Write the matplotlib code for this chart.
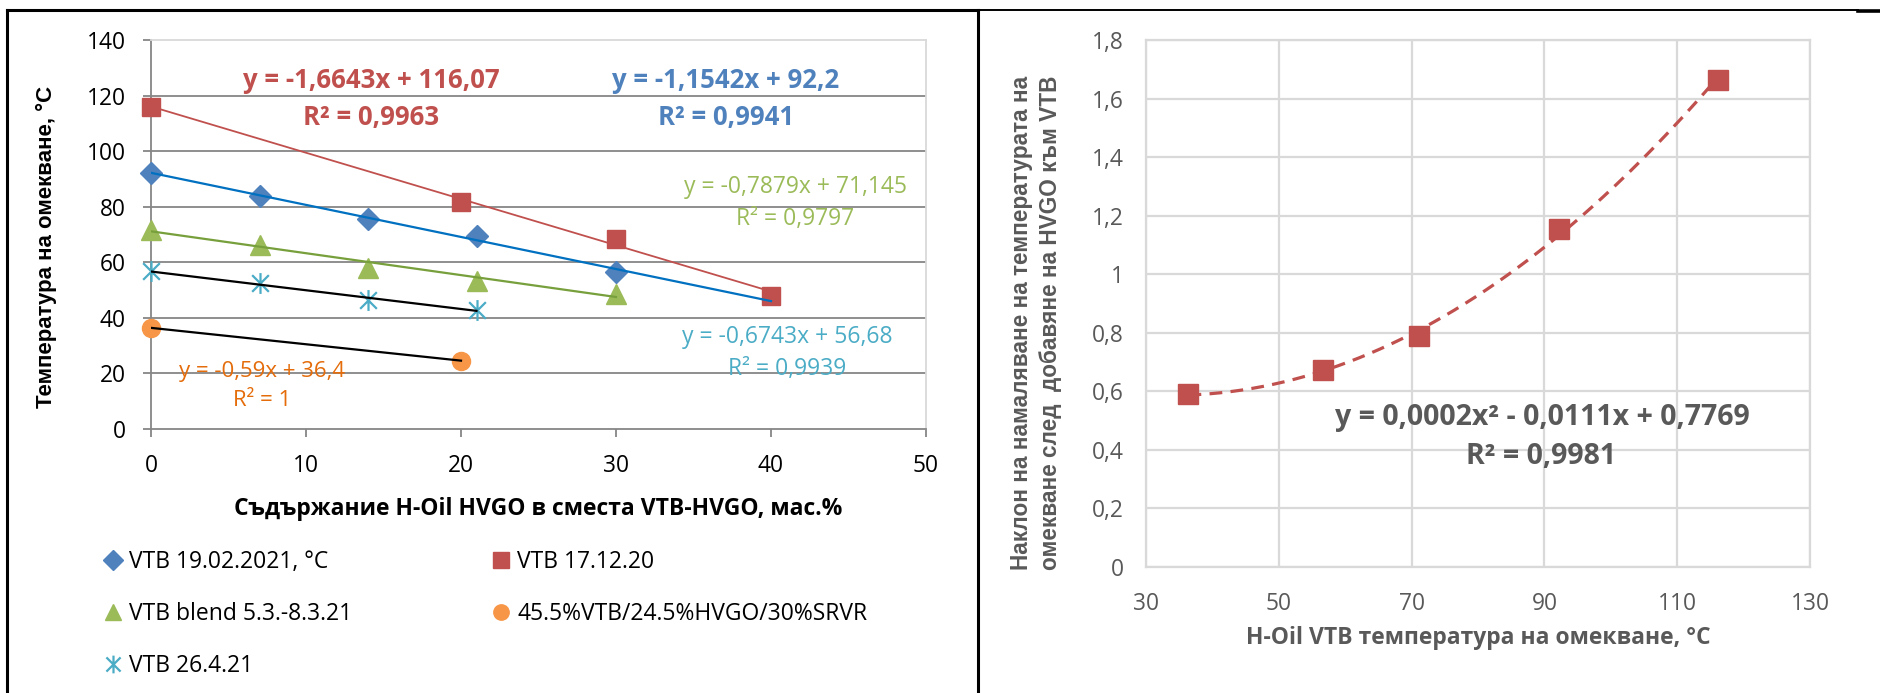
import matplotlib
matplotlib.use("Agg")
import matplotlib.pyplot as plt
import numpy as np
from matplotlib.path import Path
from matplotlib.lines import Line2D
from matplotlib.ticker import FuncFormatter

W, H = 1880, 693
NARROW = ['Open Sans', 'DejaVu Sans']
WIDE = ['Liberation Sans', 'DejaVu Sans']
plt.rcParams['font.family'] = NARROW

# left chart: softening point vs HVGO content
x_blue = [0, 7, 14, 21, 30]
y_blue = [92, 83.7, 75.7, 69.6, 56.5]
x_red = [0, 20, 30, 40]
y_red = [115.9, 81.7, 68.4, 47.8]
x_green = [0, 7, 14, 21, 30]
y_green = [71.5, 66.4, 58.1, 53.2, 48.5]
x_orange = [0, 20]
y_orange = [36.4, 24.6]
x_cyan = [0, 7, 14, 21]
y_cyan = [56.8, 52.5, 46.5, 42.8]

names = ['VTB 19.02.2021, °C', 'VTB 17.12.20', 'VTB blend 5.3.-8.3.21',
         '45.5%VTB/24.5%HVGO/30%SRVR', 'VTB 26.4.21']
# trendlines: slope, intercept, x range
slopes = [-1.1542, -1.6643, -0.7879, -0.59, -0.6743]
intercepts = [92.2, 116.07, 71.145, 36.4, 56.68]
trend_x = [(0, 40), (0, 40), (0, 30), (0, 20), (0, 21)]
eq_text = ['y = -1,1542x + 92,2\nR² = 0,9941', 'y = -1,6643x + 116,07\nR² = 0,9963',
           'y = -0,7879x + 71,145\nR² = 0,9797', 'y = -0,59x + 36,4\nR² = 1',
           'y = -0,6743x + 56,68\nR² = 0,9939']

# right chart: slope vs VTB softening point
x_right = [36.4, 56.68, 71.145, 92.2, 116.07]
y_right = [0.59, 0.6743, 0.7879, 1.1542, 1.6643]
right_eq = 'y = 0,0002x² - 0,0111x + 0,7769'
right_r2 = 'R² = 0,9981'


def fx(x):
    return x / W


def fy(y):
    return 1 - y / H


fig = plt.figure(figsize=(W / 100, H / 100), dpi=100)

# ---------- left chart ----------
ax = fig.add_axes([fx(151), fy(429), fx(926) - fx(151), fy(40) - fy(429)])
ax.set_xlim(0, 50)
ax.set_ylim(0, 140)
ax.set_xticks(range(0, 51, 10))
ax.set_yticks(range(0, 141, 20))
ax.yaxis.grid(True, color='#868686', lw=1.3)
ax.set_axisbelow(True)
ax.get_ygridlines()[-1].set_visible(False)
ax.get_ygridlines()[0].set_visible(False)
for s in ['left', 'bottom']:
    ax.spines[s].set_color('#868686')
    ax.spines[s].set_linewidth(1.3)
for s in ['top', 'right']:
    ax.spines[s].set_color('#D9D9D9')
    ax.spines[s].set_linewidth(1.3)
ax.tick_params(axis='both', direction='out', length=6, width=1.3, color='#868686',
               labelsize=16.4, labelcolor='black', pad=12)

star = Path([(0, -1), (0, 1), (-0.8, -0.8), (0.8, 0.8), (-0.8, 0.8), (0.8, -0.8)],
            [Path.MOVETO, Path.LINETO, Path.MOVETO, Path.LINETO, Path.MOVETO, Path.LINETO])

h_blue, = ax.plot(x_blue, y_blue, 'D', color='#4F81BD', ms=11.5, ls='none', label=names[0],
                  zorder=3, clip_on=False)
h_red, = ax.plot(x_red, y_red, 's', color='#C0504D', ms=13, ls='none', label=names[1],
                 zorder=3, clip_on=False)
h_green, = ax.plot(x_green, y_green, '^', color='#9BBB59', ms=14, ls='none', label=names[2],
                   zorder=3, clip_on=False)
h_orange, = ax.plot(x_orange, y_orange, 'o', color='#F79646', ms=13, ls='none', label=names[3],
                    zorder=3, clip_on=False)
h_cyan, = ax.plot(x_cyan, y_cyan, marker=star, color='#4BACC6', mfc='none', mec='#4BACC6',
                  mew=1.6, ms=15, ls='none', label=names[4], zorder=3, clip_on=False)

trend_colors = ['#0070C0', '#C0504D', '#77A03C', 'black', 'black']
trend_lw = [1.6, 1.3, 1.6, 1.6, 1.6]
for k in range(5):
    xs = np.array(trend_x[k], dtype=float)
    ax.plot(xs, slopes[k] * xs + intercepts[k], color=trend_colors[k], lw=trend_lw[k], zorder=4)

eq_pos = [(726, 99), (371, 99), (795, 203), (262, 386), (787, 353)]
eq_col = ['#4F81BD', '#C0504D', '#9BBB59', '#E46C0A', '#4BACC6']
eq_size = [18.5, 18.5, 16.5, 16, 16.5]
eq_weight = ['bold', 'bold', 'normal', 'normal', 'normal']
for k in range(5):
    fig.text(fx(eq_pos[k][0]), fy(eq_pos[k][1]), eq_text[k], color=eq_col[k],
             fontsize=eq_size[k], fontweight=eq_weight[k], ha='center', va='center',
             linespacing=1.45)

ax.set_xlabel('Съдържание H-Oil HVGO в сместа VTB-HVGO, мас.%', fontsize=16.5,
              fontweight='bold', labelpad=14)
fig.text(fx(46), fy(247), 'Температура на омекване, °C', rotation=90, family=WIDE,
         fontsize=16, fontweight='bold', ha='center', va='center')

leg = fig.legend([h_blue, h_green, h_cyan, h_red, h_orange],
                 [names[0], names[2], names[4], names[1], names[3]],
                 ncol=2, loc='upper left', bbox_to_anchor=(fx(104), fy(550)),
                 frameon=False, fontsize=16.5, handlelength=0.8, handletextpad=0.3,
                 borderpad=0, borderaxespad=0, labelspacing=1.22, columnspacing=6.1,
                 markerscale=0.85)

# ---------- right chart ----------
ax2 = fig.add_axes([fx(1146), fy(567), fx(1810) - fx(1146), fy(40) - fy(567)])
ax2.set_xlim(30, 130)
ax2.set_ylim(0, 1.8)
ax2.set_xticks(range(30, 131, 20))
ax2.set_yticks(np.arange(0, 1.81, 0.2))
ax2.yaxis.set_major_formatter(FuncFormatter(lambda v, p: f'{v:.1f}'.rstrip('0').rstrip('.').replace('.', ',')))
ax2.grid(True, color='#D9D9D9', lw=1.6)
ax2.set_axisbelow(True)
for s in ax2.spines.values():
    s.set_color('#D9D9D9')
    s.set_linewidth(1.6)
ax2.tick_params(axis='both', length=0, labelsize=16.4, labelcolor='#595959')
ax2.tick_params(axis='y', pad=16)
ax2.tick_params(axis='x', pad=18)

coef = np.polyfit(x_right, y_right, 2)
xc = np.linspace(min(x_right), max(x_right), 200)
ax2.plot(xc, np.polyval(coef, xc), color='#C0504D', lw=2.3, ls=(0, (4, 2.6)), zorder=3)
ax2.plot(x_right, y_right, 's', color='#C0504D', ms=14, ls='none', zorder=4)

fig.text(fx(1542), fy(418), right_eq, color='#595959', fontsize=20.5, fontweight='bold',
         ha='center', va='center')
fig.text(fx(1541), fy(457), right_r2, color='#595959', fontsize=20.5, fontweight='bold',
         ha='center', va='center')
ax2.set_xlabel('H-Oil VTB температура на омекване, °C', fontsize=16.5, fontweight='bold',
               color='#595959', labelpad=7)
fig.text(fx(1036), fy(323), 'Наклон на намаляване на температурата на\nомекване след  добавяне на HVGO към VTB',
         rotation=90, family=WIDE, fontsize=16.3, fontweight='bold', color='#595959',
         ha='center', va='center', linespacing=1.35)

# ---------- frame lines ----------
frame = [((7, 10), (978, 10), 2.2), ((7, 10), (7, 693), 2.2), ((978, 10), (978, 693), 2.2),
         ((978, 9.5), (1858, 9.5), 1.4), ((1858, 10.5), (1880, 10.5), 2.6)]
for (x0, y0), (x1, y1), lw in frame:
    fig.add_artist(Line2D([fx(x0), fx(x1)], [fy(y0), fy(y1)], color='black', lw=lw,
                          transform=fig.transFigure))

fig.savefig('out.png', dpi=100, facecolor='white')
